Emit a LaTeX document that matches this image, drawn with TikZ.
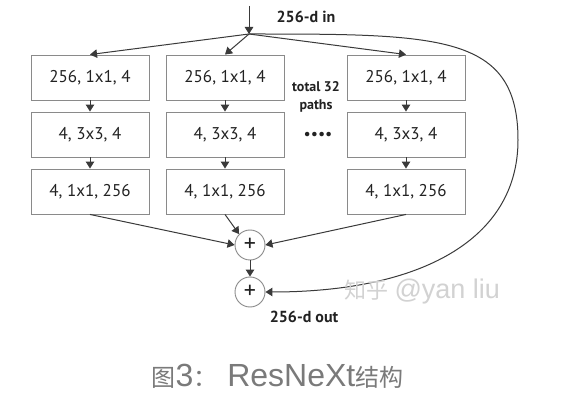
\documentclass[tikz,border=0pt]{standalone}
\usepackage{fontspec}
\setmainfont{PT Sans}
\newfontfamily\cjk{Noto Sans CJK SC}
\newfontfamily\lat{Liberation Sans}
\usetikzlibrary{arrows.meta}
\definecolor{boxc}{HTML}{8A8A8A}
\definecolor{linec}{HTML}{3A3A3A}
\definecolor{txtc}{HTML}{222222}
\definecolor{capc}{HTML}{7A7A7A}
\definecolor{wmc}{HTML}{D2D2D2}
\begin{document}
\begin{tikzpicture}[x=1pt,y=-1pt,
 box/.style={draw=boxc,line width=0.9pt,minimum width=118pt,minimum height=45pt,inner sep=0pt,text=txtc,font=\fontsize{17}{20}\selectfont},
 plus/.style={circle,draw=boxc,line width=0.9pt,minimum size=30pt,inner sep=0pt,text=txtc,font=\fontsize{24}{24}\selectfont},
 conn/.style={draw=linec,line width=1pt,-{Triangle[length=7pt,width=8.5pt]}},
 lbl/.style={text=txtc,font=\bfseries\fontsize{16}{18}\selectfont},
 small/.style={text=txtc,font=\bfseries\fontsize{14}{18}\selectfont,align=center},
]
\useasboundingbox[fill=white] (0,0) rectangle (576,406);
% boxes
\node[box] (a1) at (90,77.5) {256, 1x1, 4};
\node[box] (a2) at (90,134.5) {4, 3x3, 4};
\node[box] (a3) at (90,191.5) {4, 1x1, 256};
\node[box] (b1) at (225,77.5) {256, 1x1, 4};
\node[box] (b2) at (225,134.5) {4, 3x3, 4};
\node[box] (b3) at (225,191.5) {4, 1x1, 256};
\node[box] (c1) at (406,77.5) {256, 1x1, 4};
\node[box] (c2) at (406,134.5) {4, 3x3, 4};
\node[box] (c3) at (406,191.5) {4, 1x1, 256};
% sums
\node[plus] (p1) at (250,245) {+};
\node[plus] (p2) at (250,292) {+};
% labels
\node[lbl] (in) at (306,17) {256-d in};
\node[lbl] (out) at (304,317) {256-d out};
\node[small] (tot) at (316,97) {total 32\\paths};
\node[text=txtc,font=\fontsize{16}{18}\selectfont] (dots) at (318,136) {\textbullet\textbullet\textbullet\textbullet};
% input
\coordinate (top) at (249,6);
\coordinate (j) at (249,34);
\draw[conn] (top) -- (j);
\draw[conn] (j) -- (a1.north);
\draw[conn] (j) -- (b1.north);
\draw[conn] (j) -- (c1.north);
% paths
\foreach \c in {a,b,c}{
  \draw[conn] (\c1) -- (\c2);
  \draw[conn] (\c2) -- (\c3);
}
\draw[conn] (a3.south) -- (p1.west);
\draw[conn] (b3.south) -- (p1.north west);
\draw[conn] (c3.south) -- (p1.east);
\draw[conn] (p1) -- (p2);
% shortcut
\draw[conn] (j) .. controls (440,34) and (518,34) .. (518,140) .. controls (518,240) and (420,292) .. (p2.east);
% watermark
\node[anchor=west,text=wmc] (wm) at (341,292) {{\cjk\fontsize{22}{24}\selectfont 知乎}\hspace{6pt}{\lat\fontsize{27}{30}\selectfont @yan liu}};
% caption
\node[anchor=west,text=capc] (cap) at (148,376) {{\cjk\fontsize{24}{28}\selectfont 图}{\lat\fontsize{32}{34}\selectfont 3}{\cjk\fontsize{24}{28}\selectfont ：}\hspace{10pt}{\lat\fontsize{32}{34}\selectfont ResNeXt}{\cjk\fontsize{24}{28}\selectfont 结构}};
\end{tikzpicture}
\end{document}
